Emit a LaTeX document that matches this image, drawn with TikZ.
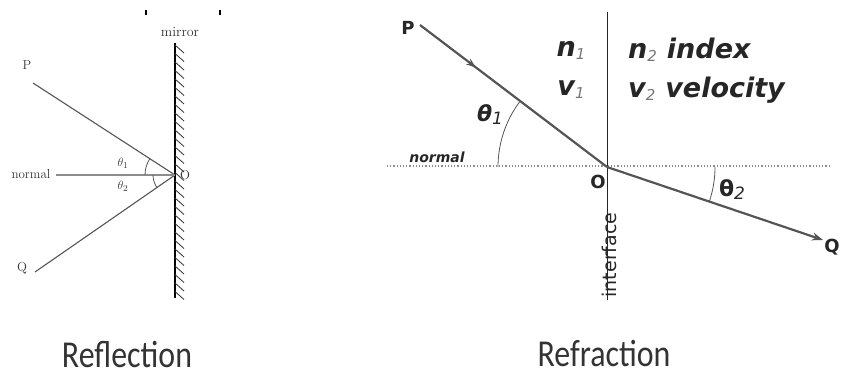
\documentclass[tikz,border=0pt]{standalone}
\usepackage{fontspec}
\usetikzlibrary{arrows.meta,decorations.markings}
\newfontfamily\capfont{Carlito}
\newfontfamily\djv{DejaVu Sans}
\newcommand{\fs}[1]{\fontsize{#1}{#1}\selectfont}
\definecolor{ray}{HTML}{555555}
\definecolor{sub}{HTML}{777777}
\tikzset{
  thinray/.style={draw=ray,line width=1.1pt},
  bigray/.style={draw=ray,line width=2.2pt},
  lbl/.style={inner sep=0pt,text=black!80},
  boldlbl/.style={inner sep=0pt,text=black!85,font=\djv\bfseries\itshape},
}
\begin{document}
\begin{tikzpicture}[x=1pt,y=1pt]
\useasboundingbox (0,0) rectangle (841,376);

% reflection
\coordinate (mtop) at (175,333);
\coordinate (mbot) at (175,78);
\coordinate (O1) at (175,201);
\coordinate (P1) at (33,293);
\coordinate (Q1) at (35,104);
\coordinate (N1) at (56,201);
\draw[line width=1.2pt] (mtop) -- (mbot);
\foreach \k in {0,...,29} {
    \draw[line width=0.8pt,black!80] (175,331-\k*8.5) -- ++(9,-8);
}
\draw[thinray] (P1) -- (O1);
\draw[thinray] (Q1) -- (O1);
\draw[draw=black!45,line width=1.1pt] (N1) -- (O1);
\draw[ray,line width=0.8pt] (O1) ++(180:30) arc (180:147:30);
\draw[ray,line width=0.8pt] (O1) ++(180:22) arc (180:215:22);
\node[lbl,font=\fs{14}] (mirror) at (180,344) {mirror};
\node[lbl,font=\fs{13}] (p1) at (27,311) {P};
\node[lbl,font=\fs{13}] (q1) at (22,108) {Q};
\node[lbl,font=\fs{13}] (o1) at (185,201) {O};
\node[lbl,font=\fs{13}] (normal1) at (31,202) {normal};
\node[lbl,font=\fs{13}] (t1) at (123,213) {$\theta_1$};
\node[lbl,font=\fs{13}] (t2) at (123,190) {$\theta_2$};
\draw[line width=1.5pt] (146,366) -- (146,361);
\draw[line width=1.5pt] (220,366) -- (220,361);
\node[lbl,font=\capfont\fs{38},xscale=0.84,anchor=base] (refl) at (127,9) {Reflection};

% refraction
\coordinate (itop) at (607,364);
\coordinate (ibot) at (607,76);
\coordinate (O2) at (607,209);
\coordinate (P2) at (420,351);
\coordinate (Q2) at (823,136);
\coordinate (nl) at (387,210);
\coordinate (nr) at (830,210);
\draw[black!45,line width=1.2pt,dotted] (nl) -- (nr);
\draw[black!85,line width=1pt] (itop) -- (ibot);
\draw[bigray,postaction={decorate},decoration={markings,
    mark=at position 0.3 with {\arrow{Stealth[length=10pt,width=7pt]}}}] (P2) -- (O2);
\draw[bigray,-{Stealth[length=11pt,width=8pt]}] (O2) -- (Q2);
\draw[ray,line width=0.8pt] (O2) ++(180:109) arc (180:142.8:109);
\draw[ray,line width=0.8pt] (O2) ++(0:108) arc (0:-18.7:108);
\node[boldlbl,font=\djv\bfseries\fs{18}] (p2) at (408,348) {P};
\node[boldlbl,font=\djv\bfseries\fs{18}] (q2) at (832,129) {Q};
\node[boldlbl,font=\djv\bfseries\fs{18}] (o2) at (598,194) {O};
\node[boldlbl,font=\djv\bfseries\itshape\fs{14}] (normal2) at (437,219) {normal};
\node[boldlbl,font=\djv\fs{19},rotate=90] (iface) at (609,121) {interface};
\node[boldlbl,font=\djv\bfseries\itshape\fs{22}] (t3) at (490,261)
    {θ\raisebox{-3pt}{\djv\mdseries\fs{17}1}};
\node[boldlbl,font=\djv\bfseries\fs{22}] (t4) at (732,186)
    {θ\raisebox{-3pt}{\djv\mdseries\itshape\fs{17}2}};
\node[boldlbl,font=\djv\bfseries\itshape\fs{27}] (n1) at (571,326)
    {n\raisebox{-3pt}{\color{sub}\mdseries\fs{15}1}};
\node[boldlbl,font=\djv\bfseries\itshape\fs{27}] (v1) at (571,286)
    {v\raisebox{-3pt}{\color{sub}\mdseries\fs{15}1}};
\node[boldlbl,font=\djv\bfseries\itshape\fs{27},anchor=west] (n2) at (628,326)
    {n\raisebox{-3pt}{\color{sub}\mdseries\fs{15}2}\hspace{10pt}index};
\node[boldlbl,font=\djv\bfseries\itshape\fs{27},anchor=west] (v2) at (628,286)
    {v\raisebox{-3pt}{\color{sub}\mdseries\fs{15}2}\hspace{10pt}velocity};
\node[lbl,font=\capfont\fs{38},xscale=0.84,anchor=base] (refr) at (604,10) {Refraction};
\end{tikzpicture}
\end{document}
